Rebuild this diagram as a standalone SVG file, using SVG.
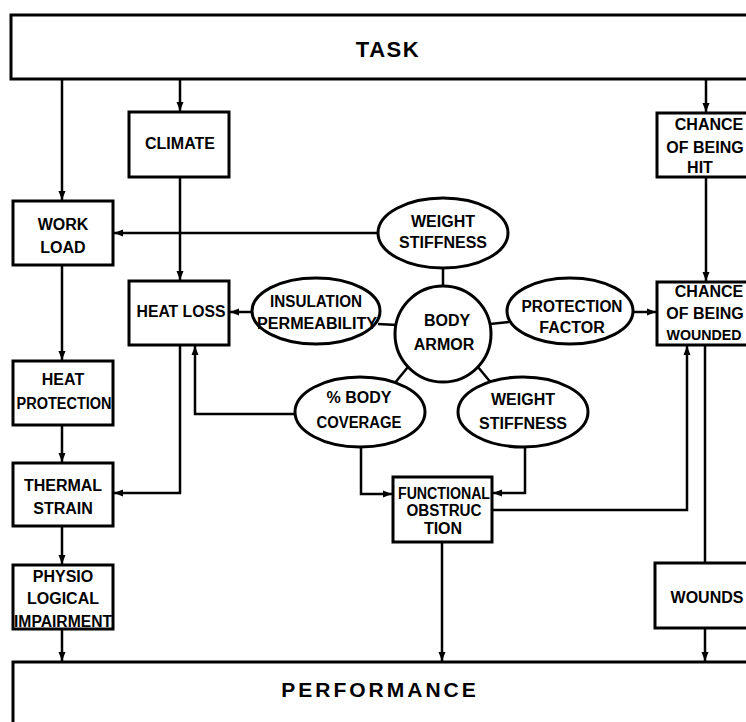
<svg xmlns="http://www.w3.org/2000/svg" width="746" height="722" viewBox="0 0 746 722">
<defs>
<style>
.box{fill:#fff;stroke:#000;stroke-width:3}
.ell{fill:#fff;stroke:#000;stroke-width:3}
.t{font-family:"Liberation Sans",Arial,sans-serif;font-weight:bold;font-size:16px;text-anchor:middle;fill:#000}
.big{font-size:22px;letter-spacing:1.5px}
.c{fill:none;stroke:#000;stroke-width:2.5}
.a{marker-end:url(#ah)}
</style>
<marker id="ah" markerUnits="userSpaceOnUse" markerWidth="10" markerHeight="8" refX="9" refY="4" orient="auto">
<path d="M0,0.5 L9,4 L0,7.5 z" fill="#000"/>
</marker>
</defs>
<rect width="746" height="722" fill="#fff"/>

<g id="connectors">
<path class="c a" d="M62,79 V200"/>
<path class="c a" d="M180,79 V111"/>
<path class="c a" d="M706,79 V112"/>
<path class="c a" d="M180,177 V280"/>
<path class="c a" d="M378,233 H114"/>
<path class="c a" d="M252,312 H230"/>
<path class="c" d="M378,324 L397,325"/>
<path class="c" d="M443,268 V287"/>
<path class="c" d="M490,324 L509,322"/>
<path class="c a" d="M633,312 H656"/>
<path class="c" d="M408,367 L394,384"/>
<path class="c" d="M478,367 L492,384"/>
<path class="c a" d="M62,265 V360"/>
<path class="c a" d="M62,425 V462"/>
<path class="c a" d="M62,526 V564"/>
<path class="c a" d="M62,629 V661"/>
<path class="c a" d="M180,345 V493 H114"/>
<path class="c a" d="M295,414 H195 V346"/>
<path class="c a" d="M361,447 V494 H392"/>
<path class="c a" d="M525,447 V493 H493"/>
<path class="c a" d="M492,510 H687 V346"/>
<path class="c a" d="M442,542 V661"/>
<path class="c a" d="M706,177 V281"/>
<path class="c" d="M705,345 V563"/>
<path class="c a" d="M705,628 V661"/>
</g>

<g id="task">
<rect class="box" x="11" y="15" width="760" height="64"/>
<text class="t big" x="388" y="57">TASK</text>
</g>

<g id="climate">
<rect class="box" x="129" y="112" width="100" height="65"/>
<text class="t" x="180" y="149">CLIMATE</text>
</g>

<g id="chance-hit">
<rect class="box" x="657" y="113" width="100" height="64"/>
<text class="t" x="709" y="130">CHANCE</text>
<text class="t" x="705" y="153">OF BEING</text>
<text class="t" x="700" y="173">HIT</text>
</g>

<g id="work-load">
<rect class="box" x="13" y="201" width="100" height="64"/>
<text class="t" x="63" y="230">WORK</text>
<text class="t" x="63" y="253">LOAD</text>
</g>

<g id="weight-stiffness-top">
<ellipse class="ell" cx="443" cy="233" rx="65" ry="35"/>
<text class="t" x="443" y="227">WEIGHT</text>
<text class="t" x="443" y="248">STIFFNESS</text>
</g>

<g id="heat-loss">
<rect class="box" x="129" y="281" width="100" height="64"/>
<text class="t" x="181" y="317" textLength="89" lengthAdjust="spacingAndGlyphs">HEAT LOSS</text>
</g>

<g id="insulation">
<ellipse class="ell" cx="316" cy="311" rx="64" ry="33"/>
<text class="t" x="316" y="307" textLength="92" lengthAdjust="spacingAndGlyphs">INSULATION</text>
<text class="t" x="317" y="329" textLength="120" lengthAdjust="spacingAndGlyphs">PERMEABILITY</text>
</g>

<g id="body-armor">
<circle class="ell" cx="443" cy="334" r="48"/>
<text class="t" x="447" y="326">BODY</text>
<text class="t" x="444" y="350">ARMOR</text>
</g>

<g id="protection-factor">
<ellipse class="ell" cx="570" cy="311" rx="63" ry="33"/>
<text class="t" x="572" y="312" textLength="101" lengthAdjust="spacingAndGlyphs">PROTECTION</text>
<text class="t" x="572" y="333">FACTOR</text>
</g>

<g id="chance-wounded">
<rect class="box" x="657" y="282" width="100" height="63"/>
<text class="t" x="709" y="297">CHANCE</text>
<text class="t" x="705" y="319">OF BEING</text>
<text class="t" x="704" y="340" style="font-size:15px" textLength="75" lengthAdjust="spacingAndGlyphs">WOUNDED</text>
</g>

<g id="heat-protection">
<rect class="box" x="13" y="361" width="100" height="64"/>
<text class="t" x="63" y="385">HEAT</text>
<text class="t" x="64" y="409" textLength="95" lengthAdjust="spacingAndGlyphs">PROTECTION</text>
</g>

<g id="body-coverage">
<ellipse class="ell" cx="360" cy="412" rx="65" ry="35"/>
<text class="t" x="359" y="403">% BODY</text>
<text class="t" x="359" y="428" textLength="85" lengthAdjust="spacingAndGlyphs">COVERAGE</text>
</g>

<g id="weight-stiffness-bottom">
<ellipse class="ell" cx="523" cy="412" rx="65" ry="35"/>
<text class="t" x="523" y="405">WEIGHT</text>
<text class="t" x="523" y="429">STIFFNESS</text>
</g>

<g id="thermal-strain">
<rect class="box" x="13" y="463" width="100" height="63"/>
<text class="t" x="63" y="491">THERMAL</text>
<text class="t" x="63" y="514">STRAIN</text>
</g>

<g id="functional-obstruction">
<rect class="box" x="393" y="477" width="99" height="65"/>
<text class="t" x="444" y="499" textLength="92" lengthAdjust="spacingAndGlyphs">FUNCTIONAL</text>
<text class="t" x="444" y="516" textLength="75" lengthAdjust="spacingAndGlyphs">OBSTRUC</text>
<text class="t" x="443" y="534">TION</text>
</g>

<g id="physiological-impairment">
<rect class="box" x="13" y="565" width="100" height="64"/>
<text class="t" x="63" y="582">PHYSIO</text>
<text class="t" x="63" y="604">LOGICAL</text>
<text class="t" x="63" y="627" textLength="98" lengthAdjust="spacingAndGlyphs">IMPAIRMENT</text>
</g>

<g id="wounds">
<rect class="box" x="655" y="563" width="100" height="65"/>
<text class="t" x="707" y="603">WOUNDS</text>
</g>

<g id="performance">
<rect class="box" x="13" y="662" width="760" height="80"/>
<text class="t big" x="380" y="697" style="letter-spacing:3px;font-size:21px">PERFORMANCE</text>
</g>
</svg>
